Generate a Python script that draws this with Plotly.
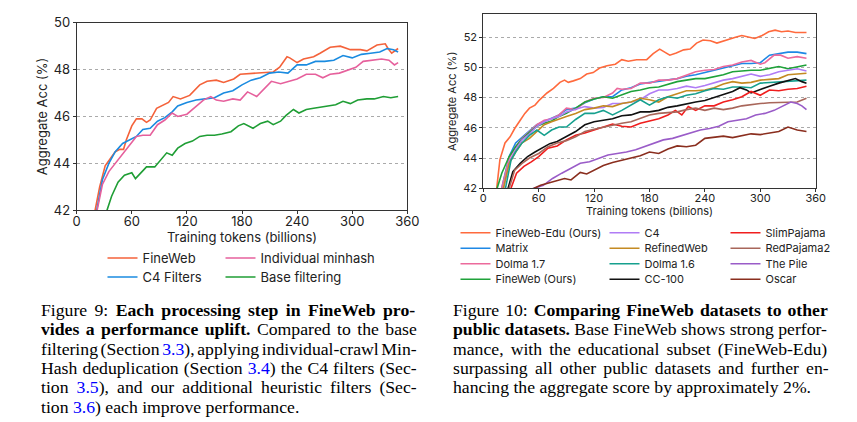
import plotly.graph_objects as go

# page body has an 8px default margin, so the figure is drawn 8px in from the window corner
OFF = 8
WIN_W, WIN_H = 857, 422
W, H = WIN_W - 2 * OFF, WIN_H - OFF

# ---------------- Figure 9 data (left) ----------------
fw_t = [15, 20, 25, 31, 38, 42, 47, 51, 54, 60, 65, 71, 76, 80, 87, 94, 100, 105, 113, 123, 134, 142, 152, 160, 171, 178, 192, 200, 207, 214, 221, 229, 232, 240, 247, 258, 265, 276, 287, 298, 309, 316, 327, 336, 339, 343, 350]
fw_v = [41.0, 42.0, 43.0, 43.9, 44.3, 44.5, 44.6, 44.6, 45.0, 45.6, 45.9, 45.9, 45.75, 45.85, 46.35, 46.5, 46.6, 46.85, 46.75, 46.9, 47.35, 47.5, 47.55, 47.45, 47.6, 47.8, 47.85, 47.85, 47.9, 47.9, 48.1, 48.55, 48.5, 48.3, 48.45, 48.55, 48.7, 48.95, 49.0, 48.85, 48.85, 48.8, 49.05, 49.1, 48.9, 48.7, 48.9]

c4f_t = [17, 22, 28, 35, 42, 50, 58, 65, 72, 80, 88, 96, 104, 110, 120, 130, 140, 150, 160, 170, 180, 190, 200, 210, 220, 230, 240, 250, 260, 270, 280, 290, 300, 310, 320, 330, 338, 345, 350]
c4f_v = [41.0, 42.0, 43.3, 44.0, 44.5, 44.85, 45.0, 45.15, 45.45, 45.5, 45.8, 45.95, 46.2, 46.45, 46.6, 46.7, 46.75, 46.8, 47.0, 47.1, 47.35, 47.55, 47.65, 47.85, 47.9, 47.85, 48.2, 48.2, 48.35, 48.35, 48.4, 48.6, 48.5, 48.65, 48.7, 48.75, 48.9, 48.85, 48.75]

imh_t = [17, 22, 28, 35, 42, 50, 58, 65, 72, 80, 88, 96, 104, 110, 120, 128, 138, 146, 152, 160, 170, 178, 186, 196, 205, 212, 222, 232, 240, 250, 260, 268, 276, 286, 296, 304, 312, 322, 332, 340, 346, 350]
imh_v = [41.0, 42.0, 43.1, 43.65, 44.0, 44.45, 44.85, 45.15, 45.2, 45.2, 45.65, 45.85, 46.15, 46.0, 46.1, 46.35, 46.7, 46.85, 46.7, 46.65, 46.75, 46.7, 47.05, 46.85, 47.2, 47.5, 47.4, 47.5, 47.6, 47.8, 47.8, 47.65, 47.8, 47.85, 48.0, 48.1, 48.35, 48.4, 48.45, 48.4, 48.2, 48.3]

base_t = [28, 33, 38, 45, 52, 60, 64, 70, 76, 85, 92, 98, 104, 110, 118, 126, 134, 142, 150, 158, 168, 176, 182, 192, 200, 208, 214, 222, 228, 236, 242, 250, 258, 266, 274, 282, 290, 298, 306, 316, 324, 334, 342, 350]
base_v = [41.2, 42.0, 42.6, 43.2, 43.5, 43.6, 43.35, 43.6, 43.85, 43.85, 44.15, 44.45, 44.35, 44.65, 44.85, 44.95, 45.15, 45.2, 45.2, 45.25, 45.35, 45.6, 45.7, 45.5, 45.7, 45.8, 45.65, 45.8, 46.05, 46.3, 46.15, 46.3, 46.35, 46.4, 46.45, 46.5, 46.65, 46.55, 46.7, 46.75, 46.75, 46.85, 46.8, 46.85]

left_names = ["FineWeb", "C4 Filters", "Individual minhash", "Base filtering"]
left_colors = ["#f4623a", "#1a8be0", "#e6609c", "#1f9e35"]
left_data = [(fw_t, fw_v), (c4f_t, c4f_v), (imh_t, imh_v), (base_t, base_v)]

# ---------------- Figure 10 data (right) ----------------
edu_t = [11, 14.5, 18, 23.5, 29, 34, 40, 45, 50, 56, 61, 69, 76, 83, 88, 92, 97.5, 105, 112, 119, 126, 134, 143, 150, 157, 166, 177, 184, 191, 197, 202, 209, 217, 224, 231, 238, 246, 253, 260, 267, 274, 280, 287, 294, 302, 309, 316, 323, 330, 338, 345, 350]
edu_v = [40.5, 42.0, 43.9, 45.0, 45.4, 45.95, 46.5, 46.95, 47.3, 47.5, 47.85, 48.3, 48.6, 49.0, 49.15, 49.0, 49.1, 49.25, 49.55, 49.65, 49.95, 50.1, 50.2, 50.5, 50.4, 50.5, 50.5, 50.9, 51.2, 51.0, 50.8, 50.95, 51.15, 51.2, 51.6, 51.8, 51.75, 51.6, 51.75, 51.9, 52.0, 52.1, 52.0, 51.9, 52.1, 52.35, 52.45, 52.35, 52.4, 52.3, 52.3, 52.3]

mat_t = [16, 20, 28, 35, 42, 50, 58, 66, 74, 82, 90, 100, 110, 120, 130, 140, 150, 160, 170, 180, 190, 200, 210, 220, 230, 240, 250, 260, 270, 280, 290, 300, 310, 320, 330, 340, 350]
mat_v = [41.0, 42.0, 44.1, 45.0, 45.4, 45.8, 46.2, 46.4, 46.6, 46.85, 47.2, 47.3, 47.65, 47.9, 48.05, 48.05, 48.5, 48.65, 48.9, 49.0, 49.1, 49.2, 49.25, 49.4, 49.5, 49.65, 49.8, 49.95, 50.15, 50.25, 50.25, 50.3, 50.8, 50.9, 51.0, 51.0, 50.9]

d17_t = [16, 20, 28, 35, 42, 50, 58, 66, 74, 82, 90, 100, 110, 120, 130, 140, 145, 150, 160, 170, 180, 190, 200, 210, 220, 230, 240, 250, 260, 270, 280, 290, 300, 305, 315, 322, 330, 340, 350]
d17_v = [41.0, 42.0, 44.0, 44.75, 45.3, 45.75, 46.2, 46.5, 46.6, 46.85, 47.3, 47.2, 47.7, 47.95, 48.0, 48.3, 48.6, 48.55, 48.6, 48.95, 48.95, 49.15, 49.15, 49.25, 49.5, 49.7, 49.8, 49.85, 50.05, 50.15, 50.35, 50.45, 50.2, 50.3, 50.8, 50.8, 50.6, 50.7, 50.6]

fwo_t = [12, 15, 20, 28, 35, 42, 50, 58, 66, 74, 82, 90, 100, 110, 120, 130, 140, 150, 160, 170, 180, 190, 200, 210, 220, 230, 240, 250, 260, 270, 280, 290, 300, 310, 320, 330, 340, 350]
fwo_v = [41.0, 42.0, 43.0, 44.1, 44.75, 45.25, 45.7, 46.1, 46.3, 46.45, 46.75, 46.95, 47.3, 47.7, 47.9, 48.05, 47.95, 48.15, 48.4, 48.5, 48.65, 48.7, 48.9, 49.05, 49.15, 49.25, 49.25, 49.35, 49.5, 49.7, 49.75, 49.8, 49.8, 49.9, 50.05, 49.9, 50.05, 50.15]

c4_t = [18, 22, 28, 35, 42, 50, 58, 66, 74, 82, 90, 100, 110, 120, 130, 140, 150, 160, 170, 180, 190, 200, 210, 220, 230, 240, 250, 260, 270, 280, 290, 300, 310, 320, 330, 340, 350]
c4_v = [41.0, 42.0, 43.75, 44.55, 45.2, 45.6, 46.1, 46.4, 46.6, 46.75, 47.05, 47.2, 47.4, 47.3, 47.35, 47.6, 47.6, 47.7, 47.85, 48.25, 48.5, 48.5, 48.6, 48.75, 48.65, 48.8, 49.0, 49.15, 49.25, 49.4, 49.55, 49.4, 49.5, 49.7, 49.8, 49.9, 49.75]

rw_t = [18, 22, 28, 35, 42, 50, 58, 66, 74, 82, 90, 100, 110, 120, 130, 140, 150, 160, 170, 180, 190, 200, 210, 220, 230, 240, 250, 260, 270, 280, 290, 300, 310, 320, 330, 340, 350]
rw_v = [41.0, 42.0, 43.65, 44.4, 45.0, 45.3, 45.75, 46.2, 46.4, 46.6, 46.75, 46.95, 47.2, 47.3, 47.45, 47.4, 47.6, 47.7, 47.95, 47.85, 47.7, 48.05, 48.25, 48.45, 48.45, 48.5, 48.65, 48.9, 49.05, 48.95, 49.0, 49.15, 49.2, 49.25, 49.5, 49.55, 49.6]

d16_t = [20, 24, 30, 35, 42, 50, 58, 66, 74, 82, 90, 100, 110, 120, 130, 140, 150, 160, 170, 180, 190, 200, 210, 220, 230, 240, 250, 260, 270, 280, 290, 300, 310, 320, 330, 340, 350]
d16_v = [41.0, 42.0, 43.85, 44.4, 45.0, 45.5, 45.85, 45.5, 45.85, 46.05, 46.05, 46.55, 46.95, 46.95, 47.15, 46.85, 47.15, 47.5, 47.85, 47.5, 47.85, 48.05, 47.95, 48.15, 48.25, 48.45, 48.6, 48.55, 48.7, 48.7, 48.65, 48.95, 49.0, 49.0, 49.05, 49.1, 49.15]

cc_t = [23, 27, 32, 40, 48, 56, 64, 72, 80, 90, 100, 110, 120, 130, 140, 150, 160, 170, 180, 190, 200, 210, 220, 230, 240, 250, 260, 270, 278, 285, 290, 300, 310, 320, 330, 338, 345, 350]
cc_v = [41.2, 42.0, 43.1, 43.65, 44.1, 44.4, 44.65, 44.95, 45.1, 45.4, 45.75, 46.2, 46.4, 46.5, 46.6, 46.8, 46.85, 47.05, 47.05, 47.15, 47.35, 47.45, 47.55, 47.7, 47.8, 48.0, 48.2, 48.4, 48.65, 48.5, 48.3, 48.55, 48.75, 48.95, 49.1, 49.25, 49.05, 48.95]

sp_t = [26, 30, 36, 44, 52, 60, 70, 80, 90, 100, 110, 120, 130, 140, 150, 160, 170, 180, 190, 200, 208, 215, 222, 230, 240, 250, 260, 270, 280, 290, 300, 310, 320, 330, 340, 350]
sp_v = [41.2, 42.0, 43.0, 43.45, 43.75, 44.1, 44.65, 44.8, 45.2, 45.5, 45.65, 45.85, 46.05, 46.25, 46.1, 46.05, 46.3, 46.45, 46.6, 46.85, 47.15, 46.85, 47.4, 47.15, 47.45, 47.45, 47.7, 47.85, 48.05, 48.4, 48.15, 48.5, 48.45, 48.55, 48.6, 48.75]

rp2_t = [24, 28, 34, 42, 50, 60, 70, 80, 90, 100, 110, 120, 130, 140, 150, 160, 170, 180, 190, 200, 210, 220, 230, 240, 250, 260, 270, 280, 290, 300, 310, 320, 330, 340, 350]
rp2_v = [41.2, 42.0, 43.2, 43.65, 44.0, 44.3, 44.75, 45.0, 45.15, 45.4, 45.75, 45.9, 46.05, 46.2, 46.3, 46.4, 46.65, 46.85, 46.95, 47.0, 47.05, 47.2, 47.3, 47.15, 47.3, 47.2, 47.3, 47.45, 47.55, 47.6, 47.65, 47.65, 47.7, 47.7, 47.95]

pile_t = [45, 55, 65, 75, 85, 95, 105, 115, 125, 135, 145, 155, 165, 175, 185, 195, 205, 215, 225, 235, 245, 255, 265, 275, 285, 295, 305, 315, 325, 333, 340, 345, 350]
pile_v = [41.7, 42.0, 42.2, 42.65, 43.0, 43.3, 43.65, 43.75, 44.0, 44.2, 44.3, 44.4, 44.55, 44.75, 45.0, 45.2, 45.3, 45.5, 45.65, 45.85, 45.95, 46.1, 46.4, 46.5, 46.6, 46.85, 46.95, 47.15, 47.45, 47.7, 47.6, 47.45, 47.2]

osc_t = [45, 55, 62, 70, 80, 88, 95, 105, 112, 120, 130, 140, 150, 160, 170, 180, 190, 200, 210, 220, 230, 240, 250, 260, 270, 280, 290, 300, 310, 320, 330, 340, 350]
osc_v = [41.8, 42.0, 42.2, 42.35, 42.55, 42.65, 42.55, 43.05, 42.95, 43.2, 43.5, 43.7, 43.85, 44.0, 44.15, 44.4, 44.3, 44.6, 44.8, 44.75, 44.85, 45.3, 45.35, 45.45, 45.35, 45.5, 45.6, 45.55, 45.65, 45.75, 46.05, 45.85, 45.75]

right_names = ["FineWeb-Edu (Ours)", "Matrix", "Dolma 1.7", "FineWeb (Ours)",
               "C4", "RefinedWeb", "Dolma 1.6", "CC-100",
               "SlimPajama", "RedPajama2", "The Pile", "Oscar"]
right_colors = ["#ff6a3d", "#1e88e5", "#ec6a9c", "#1fa23a",
                "#b07cf5", "#c48a22", "#16a08e", "#111111",
                "#f01e1e", "#a8665a", "#9a5cc8", "#8a2e1e"]
right_data = [(edu_t, edu_v), (mat_t, mat_v), (d17_t, d17_v), (fwo_t, fwo_v),
              (c4_t, c4_v), (rw_t, rw_v), (d16_t, d16_v), (cc_t, cc_v),
              (sp_t, sp_v), (rp2_t, rp2_v), (pile_t, pile_v), (osc_t, osc_v)]

x_ticks = [0, 60, 120, 180, 240, 300, 360]
left_yticks = [42, 44, 46, 48, 50]
right_yticks = [42, 44, 46, 48, 50, 52]

FONT = "Inter, 'DejaVu Sans', sans-serif"
SERIF = "'Liberation Serif', 'Times New Roman', serif"

def px(x):
    return (x - OFF) / W

def py(y):
    return 1 - (y - OFF) / H

fig = go.Figure()

legend_layouts = {}
lidx = 1

def legend_key(i):
    return "legend" if i == 1 else f"legend{i}"

left_leg_pos = [(145, 258), (145, 277), (263, 258), (263, 277)]
for (t, v), name, col, (lx, ly) in zip(left_data, left_names, left_colors, left_leg_pos):
    key = legend_key(lidx)
    fig.add_trace(go.Scatter(x=t, y=v, mode="lines", name=name,
                             line=dict(color=col, width=1.6),
                             xaxis="x", yaxis="y", legend=key))
    legend_layouts[key] = dict(x=px(lx - 42.5), y=py(ly), xanchor="left", yanchor="middle",
                               bgcolor="rgba(0,0,0,0)", borderwidth=0,
                               font=dict(family=FONT, size=13, color="#222"),
                               itemclick=False, itemdoubleclick=False)
    lidx += 1

right_cols_x = [498, 647, 768]
right_rows_y = [232.7, 248.2, 263.7, 279.2]
for i, ((t, v), name, col) in enumerate(zip(right_data, right_names, right_colors)):
    key = legend_key(lidx)
    fig.add_trace(go.Scatter(x=t, y=v, mode="lines", name=name,
                             line=dict(color=col, width=1.6),
                             xaxis="x2", yaxis="y2", legend=key))
    lx = right_cols_x[i // 4]
    ly = right_rows_y[i % 4]
    legend_layouts[key] = dict(x=px(lx - 42.5), y=py(ly), xanchor="left", yanchor="middle",
                               bgcolor="rgba(0,0,0,0)", borderwidth=0,
                               font=dict(family=FONT, size=11, color="#222"),
                               itemclick=False, itemdoubleclick=False)
    lidx += 1

axis_common = dict(showline=True, linecolor="#333", linewidth=1, mirror=True,
                   ticks="outside", ticklen=3, tickcolor="#333", zeroline=False,
                   automargin=False)

fig.update_layout(
    width=W, height=H,
    margin=dict(l=0, r=0, t=0, b=0, autoexpand=False),
    paper_bgcolor="white", plot_bgcolor="white",
    showlegend=True,
    xaxis=dict(domain=[px(76.7), px(407.3)], range=[0, 360], tickvals=x_ticks,
               showgrid=False, anchor="y", ticklabelstandoff=-4,
               tickfont=dict(family=FONT, size=13, color="#222"),
               title=dict(text="Training tokens (billions)", standoff=1,
                          font=dict(family=FONT, size=13, color="#222")),
               **axis_common),
    yaxis=dict(domain=[py(210.3), py(22.7)], range=[42, 50], tickvals=left_yticks,
               showgrid=True, gridcolor="#aaa", griddash="dot", gridwidth=1, anchor="x",
               tickfont=dict(family=FONT, size=13, color="#222"),
               title=dict(text="Aggregate Acc (%)", standoff=2,
                          font=dict(family=FONT, size=13, color="#222")),
               **axis_common),
    xaxis2=dict(domain=[px(483.3), px(815.7)], range=[0, 360], tickvals=x_ticks,
                showgrid=False, anchor="y2", ticklabelstandoff=-4,
                tickfont=dict(family=FONT, size=11, color="#222"),
                title=dict(text="Training tokens (billions)", standoff=1,
                           font=dict(family=FONT, size=11, color="#222")),
                **axis_common),
    yaxis2=dict(domain=[py(188.3), py(14.3)], range=[42, 53.5], tickvals=right_yticks,
                showgrid=True, gridcolor="#aaa", griddash="dot", gridwidth=1, anchor="x2",
                tickfont=dict(family=FONT, size=11, color="#222"),
                title=dict(text="Aggregate Acc (%)", standoff=4,
                           font=dict(family=FONT, size=11, color="#222")),
                **axis_common),
    **legend_layouts,
)

# ---------------- captions (justified with Times metrics) ----------------
TIMES_R = {" ": 250, "!": 333, "%": 833, "(": 333, ")": 333, ",": 250, "-": 333, ".": 250, ":": 278,
           "A": 722, "B": 667, "C": 667, "D": 722, "E": 611, "F": 556, "G": 722, "H": 722, "I": 333,
           "J": 389, "K": 722, "L": 611, "M": 889, "N": 722, "O": 722, "P": 556, "Q": 722, "R": 667,
           "S": 556, "T": 611, "U": 722, "V": 722, "W": 944, "X": 722, "Y": 722, "Z": 611,
           "a": 444, "b": 500, "c": 444, "d": 500, "e": 444, "f": 333, "g": 500, "h": 500, "i": 278,
           "j": 278, "k": 500, "l": 278, "m": 778, "n": 500, "o": 500, "p": 500, "q": 500, "r": 333,
           "s": 389, "t": 278, "u": 500, "v": 500, "w": 722, "x": 500, "y": 500, "z": 444}
TIMES_B = dict(TIMES_R)
TIMES_B.update({":": 333, "C": 722, "E": 667, "F": 611, "W": 1000, "a": 500, "b": 556, "d": 556,
                "h": 556, "k": 556, "m": 833, "n": 556, "p": 556, "r": 444, "t": 333, "u": 556})
for d in "0123456789":
    TIMES_R[d] = 500
    TIMES_B[d] = 500

CAP_SIZE = 17.7
CAP_WIDTH = 376.0

def seg_width(text, bold):
    table = TIMES_B if bold else TIMES_R
    return sum(table.get(c, 500) for c in text) * CAP_SIZE / 1000.0

def build_line(segs, justify):
    html = ""
    width = 0.0
    nsp = 0
    for text, kind in segs:
        width += seg_width(text, kind == "b")
        nsp += text.count(" ")
        if kind == "b":
            html += "<b>" + text + "</b>"
        elif kind == "link":
            html += "<span style='color:#0000ff'>" + text + "</span>"
        else:
            html += text
    ws = (CAP_WIDTH - width) / nsp if (justify and nsp) else 0.0
    return "<span style='word-spacing:%.2fpx'>%s</span>" % (ws, html)

left_caption = [
    [("Figure 9: ", "r"), ("Each processing step in FineWeb pro-", "b")],
    [("vides a performance uplift.", "b"), (" Compared to the base", "r")],
    [("filtering (Section ", "r"), ("3.3", "link"), ("), applying individual-crawl Min-", "r")],
    [("Hash deduplication (Section ", "r"), ("3.4", "link"), (") the C4 filters (Sec-", "r")],
    [("tion ", "r"), ("3.5", "link"), ("), and our additional heuristic filters (Sec-", "r")],
    [("tion ", "r"), ("3.6", "link"), (") each improve performance.", "r")],
]
right_caption = [
    [("Figure 10: ", "r"), ("Comparing FineWeb datasets to other", "b")],
    [("public datasets.", "b"), (" Base FineWeb shows strong perfor-", "r")],
    [("mance, with the educational subset (FineWeb-Edu)", "r")],
    [("surpassing all other public datasets and further en-", "r")],
    [("hancing the aggregate score by approximately 2%.", "r")],
]
line_y = [310, 329.3, 348.6, 367.9, 387.2, 406.5]

for col_x, caption in ((41, left_caption), (452.7, right_caption)):
    for k, (segs, y) in enumerate(zip(caption, line_y)):
        html = build_line(segs, justify=(k < len(caption) - 1))
        fig.add_annotation(text=html, x=px(col_x - 2), y=py(y), xref="paper", yref="paper",
                           xanchor="left", yanchor="middle", showarrow=False,
                           font=dict(family=SERIF, size=CAP_SIZE, color="black"))

fig.write_html("out.html")
